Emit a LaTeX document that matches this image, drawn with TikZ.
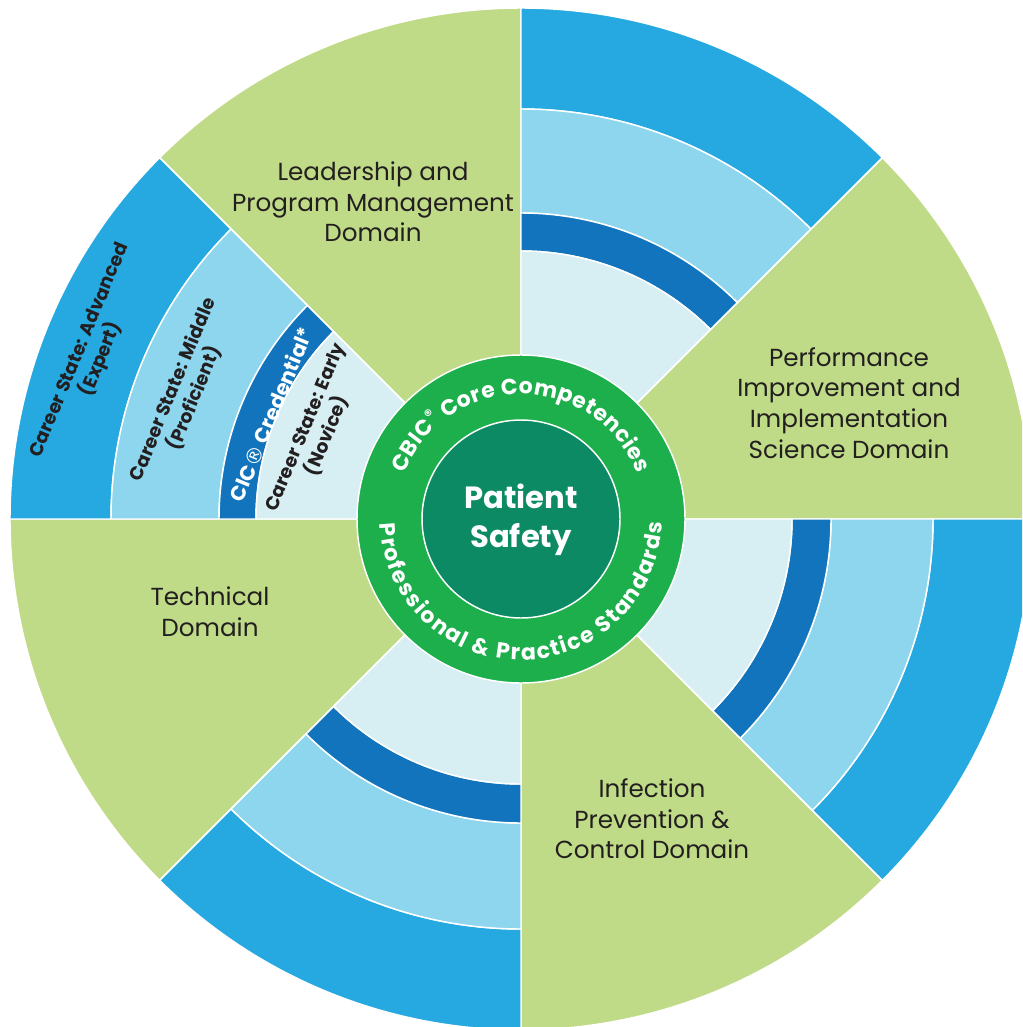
\documentclass[tikz,border=0pt]{standalone}
\usepackage{fontspec}
\setmainfont{Poppins}
\newfontfamily\regfont{DejaVu Sans}
\usepackage{xcolor}
\usetikzlibrary{decorations.text}

\definecolor{domaingreen}{RGB}{192,219,135}
\definecolor{ringgreen}{RGB}{28,175,75}
\definecolor{coregreen}{RGB}{11,138,99}
\definecolor{bandouter}{RGB}{37,169,224}
\definecolor{bandmiddle}{RGB}{141,214,238}
\definecolor{bandcred}{RGB}{17,116,188}
\definecolor{bandinner}{RGB}{215,238,243}
\definecolor{labeltext}{RGB}{35,31,32}

\tikzset{
  piece/.style={draw=white, line width=1.1pt},
  domainlabel/.style={align=center, text=labeltext, inner sep=0.75pt, font=\fontsize{18.5}{23}\selectfont},
  careerlabel/.style={align=center, text=labeltext, inner sep=0.75pt, rotate=67.5, font=\bfseries\fontsize{14}{17.5}\selectfont},
}

\begin{document}
\begin{tikzpicture}[x=0.75pt,y=0.75pt,yscale=-1,xscale=1]
\clip (0,0) rectangle (1022,1027);

\begin{scope}[shift={(521,519)},yscale=-1]
%Shape: Wedges [domains]
\filldraw[piece, fill=domaingreen] (0,0) -- (0:511) arc (0:45:511) -- cycle ;
\filldraw[piece, fill=domaingreen] (0,0) -- (90:511) arc (90:135:511) -- cycle ;
\filldraw[piece, fill=domaingreen] (0,0) -- (180:511) arc (180:225:511) -- cycle ;
\filldraw[piece, fill=domaingreen] (0,0) -- (270:511) arc (270:315:511) -- cycle ;

%Shape: Bands [top right]
\filldraw[piece, fill=bandouter] (45:410) -- (45:511) arc (45:90:511) -- (90:410) arc (90:45:410) -- cycle ;
\filldraw[piece, fill=bandmiddle] (45:306) -- (45:410) arc (45:90:410) -- (90:306) arc (90:45:306) -- cycle ;
\filldraw[piece, fill=bandcred] (45:268) -- (45:306) arc (45:90:306) -- (90:268) arc (90:45:268) -- cycle ;
\filldraw[piece, fill=bandinner] (0,0) -- (45:268) arc (45:90:268) -- cycle ;
%Shape: Bands [left]
\filldraw[piece, fill=bandouter] (135:410) -- (135:511) arc (135:180:511) -- (180:410) arc (180:135:410) -- cycle ;
\filldraw[piece, fill=bandmiddle] (135:302) -- (135:410) arc (135:180:410) -- (180:302) arc (180:135:302) -- cycle ;
\filldraw[piece, fill=bandcred] (135:265) -- (135:302) arc (135:180:302) -- (180:265) arc (180:135:265) -- cycle ;
\filldraw[piece, fill=bandinner] (0,0) -- (135:265) arc (135:180:265) -- cycle ;
%Shape: Bands [bottom left]
\filldraw[piece, fill=bandouter] (225:410) -- (225:511) arc (225:270:511) -- (270:410) arc (270:225:410) -- cycle ;
\filldraw[piece, fill=bandmiddle] (225:304) -- (225:410) arc (225:270:410) -- (270:304) arc (270:225:304) -- cycle ;
\filldraw[piece, fill=bandcred] (225:265) -- (225:304) arc (225:270:304) -- (270:265) arc (270:225:265) -- cycle ;
\filldraw[piece, fill=bandinner] (0,0) -- (225:265) arc (225:270:265) -- cycle ;
%Shape: Bands [right]
\filldraw[piece, fill=bandouter] (315:412) -- (315:511) arc (315:360:511) -- (360:412) arc (360:315:412) -- cycle ;
\filldraw[piece, fill=bandmiddle] (315:310) -- (315:412) arc (315:360:412) -- (360:310) arc (360:315:310) -- cycle ;
\filldraw[piece, fill=bandcred] (315:271) -- (315:310) arc (315:360:310) -- (360:271) arc (360:315:271) -- cycle ;
\filldraw[piece, fill=bandinner] (0,0) -- (315:271) arc (315:360:271) -- cycle ;

%Shape: Circles [hub]
\filldraw[piece, fill=ringgreen] (0,0) circle (164) ;
\filldraw[piece, fill=coregreen] (0,0) circle (99) ;

% Ring texts
\path[decorate, decoration={text along path, text align=center,
  text={|\color{white}\bfseries\fontsize{16.5}{19}\selectfont\kern0.3pt|CBIC{\textsuperscript{®}} Core Competencies}}]
  (163:125) arc (163:17:125) ;
\path[decorate, decoration={text along path, text align=center,
  text={|\color{white}\bfseries\fontsize{16.5}{19}\selectfont\kern1.2pt|Professional {\&} Practice Standards}}]
  (184:141) arc (184:356:141) ;
\end{scope}

% Text Node
\node[text=white, align=center, font=\bfseries\fontsize{23}{29}\selectfont] (core) at (521,520) {Patient\\Safety};
% Text Node
\node[domainlabel] (leadership) at (373,202) {Leadership and\\Program Management\\Domain};
% Text Node
\node[domainlabel] (performance) at (849,403) {Performance\\Improvement and\\Implementation\\Science Domain};
% Text Node
\node[domainlabel] (technical) at (210,612) {Technical\\Domain};
% Text Node
\node[domainlabel] (infection) at (652,819) {Infection\\Prevention \&\\Control Domain};

% Text Node
\node[careerlabel] (advanced) at (91,355) {Career State: Advanced\\(Expert)};
% Text Node
\node[careerlabel] (middle) at (184,394) {Career State: Middle\\(Proficient)};
% Text Node
\node[careerlabel, text=white, font=\bfseries\fontsize{15.5}{18}\selectfont] (credential) at (271,414) {CIC{\regfont\mdseries ®} Credential*};
% Text Node
\node[careerlabel] (early) at (317,432) {Career State: Early\\(Novice)};

\end{tikzpicture}
\end{document}
